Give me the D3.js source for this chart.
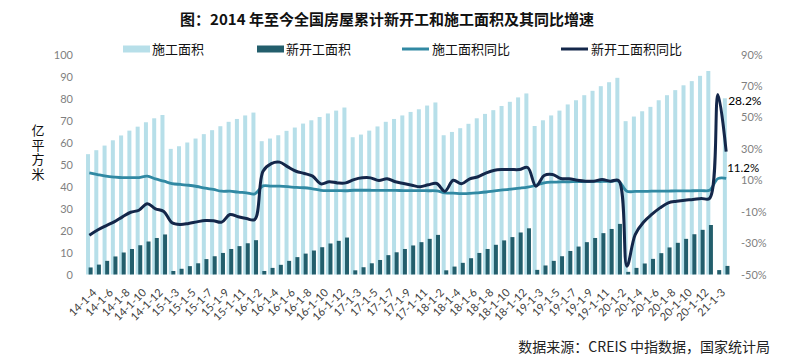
<!DOCTYPE html>
<html><head><meta charset="utf-8">
<script src="https://cdn.jsdelivr.net/npm/d3@7"></script>
<style>body{margin:0;background:#fff;} svg{display:block;}</style>
</head><body>
<svg id="c" width="792" height="360"></svg>
<script>
const categories = [
 "14-1-3","14-1-4","14-1-5","14-1-6","14-1-7","14-1-8","14-1-9","14-1-10","14-1-11","14-1-12",
 "15-1-2","15-1-3","15-1-4","15-1-5","15-1-6","15-1-7","15-1-8","15-1-9","15-1-10","15-1-11","15-1-12",
 "16-1-2","16-1-3","16-1-4","16-1-5","16-1-6","16-1-7","16-1-8","16-1-9","16-1-10","16-1-11","16-1-12",
 "17-1-2","17-1-3","17-1-4","17-1-5","17-1-6","17-1-7","17-1-8","17-1-9","17-1-10","17-1-11","17-1-12",
 "18-1-2","18-1-3","18-1-4","18-1-5","18-1-6","18-1-7","18-1-8","18-1-9","18-1-10","18-1-11","18-1-12",
 "19-1-2","19-1-3","19-1-4","19-1-5","19-1-6","19-1-7","19-1-8","19-1-9","19-1-10","19-1-11","19-1-12",
 "20-1-2","20-1-3","20-1-4","20-1-5","20-1-6","20-1-7","20-1-8","20-1-9","20-1-10","20-1-11","20-1-12",
 "21-1-2","21-1-3"
];
// 施工面积 (亿平方米)
const construction = [
 54.7,56.5,58.6,61.0,63.2,65.4,67.2,69.2,71.0,72.5,
 57.1,58.3,60.0,61.8,63.8,65.6,67.4,69.4,70.7,72.3,73.6,
 60.6,61.8,63.3,65.3,66.8,68.6,70.1,71.6,73.2,74.5,75.9,
 62.4,63.6,65.4,67.3,69.4,70.7,72.3,73.9,75.1,76.8,78.2,
 63.3,64.8,66.5,68.5,71.0,73.0,74.7,76.6,78.5,80.5,82.3,
 67.5,70.1,72.3,74.5,77.3,79.2,81.5,83.5,85.6,87.4,89.4,
 69.7,71.8,74.2,76.2,79.2,81.5,83.8,86.0,87.9,90.3,92.5,
 null,80.1
];
// 新开工面积 (亿平方米)
const newStart = [
 3.2,4.5,6.2,8.2,10.0,11.6,13.3,15.0,16.6,18.2,
 1.6,2.6,3.8,5.1,7.0,8.3,9.8,11.6,12.9,14.2,15.6,
 1.6,3.0,4.4,6.2,7.9,9.5,10.9,12.4,14.1,15.3,16.8,
 1.9,3.3,5.1,6.6,8.8,10.1,11.6,13.2,14.7,16.2,18.0,
 1.9,3.6,5.3,7.4,9.8,11.6,13.5,15.5,17.0,19.1,21.0,
 2.1,4.1,6.2,8.3,10.7,12.7,14.7,16.6,18.8,20.7,23.0,
 1.2,3.0,5.0,7.1,9.7,12.3,14.4,16.2,18.3,20.3,22.5,
 2.0,3.9
];
// 施工面积同比 (%)
const constructionYoY = [
 14.7,13.6,12.6,12.0,11.6,11.7,11.7,12.6,10.8,9.4,
 7.9,7.3,6.8,6.0,4.9,4.1,3.0,3.0,2.4,2.0,1.3,
 6.4,6.2,6.2,5.9,5.4,5.2,4.5,3.6,3.4,3.4,3.3,
 3.6,3.6,3.6,3.5,3.5,3.5,3.4,3.4,3.4,3.3,3.2,
 2.0,1.8,1.5,1.6,2.0,2.5,3.2,3.8,4.3,4.9,5.6,
 6.8,8.3,8.8,9.0,9.0,9.1,9.1,9.2,9.2,9.3,9.4,
 3.0,2.9,2.9,3.0,3.0,3.1,3.2,3.2,3.3,3.4,3.6,
 11.0,11.2
];
// 新开工面积同比 (%)
const newStartYoY = [
 -25.0,-21.7,-19.0,-16.5,-13.3,-10.4,-9.1,-5.0,-8.2,-9.9,
 -17.1,-18.2,-17.5,-16.5,-15.6,-15.8,-16.7,-11.8,-13.3,-14.4,-15.0,
 15.7,20.6,21.5,18.5,15.7,14.3,12.6,7.7,9.0,8.3,8.3,
 10.4,11.5,11.5,9.8,10.9,9.0,7.9,6.8,5.8,7.1,7.9,
 3.0,10.0,7.7,10.9,12.2,14.7,16.4,16.8,16.8,16.8,18.1,
 6.2,13.0,13.6,11.1,10.9,10.0,9.4,9.4,10.4,9.4,9.8,
 -44.7,-24.6,-16.7,-11.8,-7.6,-4.4,-3.4,-2.7,-2.3,-1.6,-1.6,
 64.5,28.2
];
const xTickLabels = categories.filter((c,i)=> i % 2 === 1);
const leftTicks = [0,10,20,30,40,50,60,70,80,90,100];
const rightTicks = [-50,-30,-10,10,30,50,70,90];
const seriesNames = ["施工面积","新开工面积","施工面积同比","新开工面积同比"];
const colors = {light:"#b7dfe9", dark:"#235e6c", teal:"#3189a3", navy:"#14274a"};
const titleText = "图：2014 年至今全国房屋累计新开工和施工面积及其同比增速";
const sourceText = "数据来源：CREIS 中指数据，国家统计局";
const yTitle = "亿平方米";

const svg = d3.select('#c');
const CJK = '"Noto Sans CJK SC", "Noto Sans", sans-serif';
const NUM = 'Lato, "Liberation Sans", sans-serif';

const x = d3.scaleBand().domain(categories).range([85.2, 730.3]).padding(0);
const yL = d3.scaleLinear().domain([0,100]).range([274.5,54.5]);
const yR = d3.scaleLinear().domain([-50,90]).range([274.5,54.5]);
const cx = c => x(c) + x.bandwidth()/2;

// title
svg.append('text').attr('x',387).attr('y',25).attr('text-anchor','middle')
  .attr('font-family',CJK).attr('font-weight','bold').attr('font-size',15).attr('fill','#111')
  .text(titleText);

// bars
const g = svg.append('g');
g.selectAll('rect.light').data(categories.map((c,i)=>({c,v:construction[i]})).filter(d=>d.v!=null))
 .join('rect').attr('class','light')
 .attr('x',d=>cx(d.c)-3.3).attr('width',4)
 .attr('y',d=>yL(d.v)).attr('height',d=>yL(0)-yL(d.v)).attr('fill',colors.light);
g.selectAll('rect.dark').data(categories.map((c,i)=>({c,v:newStart[i]})))
 .join('rect').attr('class','dark')
 .attr('x',d=>cx(d.c)-0.7).attr('width',4)
 .attr('y',d=>yL(d.v)).attr('height',d=>yL(0)-yL(d.v)).attr('fill',colors.dark);

// lines
const line = d3.line().defined(d=>d.v!=null).x(d=>cx(d.c)).y(d=>yR(d.v)).curve(d3.curveCatmullRom.alpha(0.5));
svg.append('path').datum(categories.map((c,i)=>({c,v:constructionYoY[i]})))
 .attr('d',line).attr('fill','none').attr('stroke',colors.teal).attr('stroke-width',2.8).attr('stroke-linejoin','round');
svg.append('path').datum(categories.map((c,i)=>({c,v:newStartYoY[i]})))
 .attr('d',line).attr('fill','none').attr('stroke',colors.navy).attr('stroke-width',3).attr('stroke-linejoin','round');

// axes
const axL = svg.append('g').attr('transform','translate(76,0)')
 .call(d3.axisLeft(yL).tickValues(leftTicks).tickSize(0).tickPadding(3));
axL.select('.domain').remove();
axL.selectAll('text').attr('font-family',NUM).attr('font-size',11).attr('fill','#7f7f7f');

const axR = svg.append('g').attr('transform','translate(738,0)')
 .call(d3.axisRight(yR).tickValues(rightTicks).tickFormat(d=>d+'%').tickSize(0).tickPadding(3));
axR.select('.domain').remove();
axR.selectAll('text').attr('font-family',NUM).attr('font-size',11).attr('fill','#7f7f7f');

const axB = svg.append('g').attr('transform','translate(0,274.5)')
 .call(d3.axisBottom(x).tickValues(xTickLabels).tickSize(0));
axB.select('.domain').remove();
axB.selectAll('text')
 .attr('font-family',NUM).attr('font-size',11).attr('fill','#404040')
 .attr('text-anchor','end').attr('dy','0.35em')
 .attr('transform','translate(-3,16) rotate(-45)').attr('y',0).attr('x',0);

// y-axis title (vertical)
svg.append('text').attr('x',38).attr('y',124)
 .attr('font-family',CJK).attr('font-size',13).attr('fill','#111')
 .style('writing-mode','vertical-rl').style('text-orientation','upright')
 .attr('letter-spacing',1.5)
 .text(yTitle);

// legend
const lg = svg.append('g').attr('font-family',CJK).attr('font-size',13).attr('fill','#111');
const legendItems = [
 {name:seriesNames[0], type:'rect', color:colors.light, x:123, tx:152},
 {name:seriesNames[1], type:'rect', color:colors.dark, x:257, tx:286},
 {name:seriesNames[2], type:'line', color:colors.teal, x:402, tx:432},
 {name:seriesNames[3], type:'line', color:colors.navy, x:561, tx:591}
];
legendItems.forEach(it=>{
  if(it.type==='rect') lg.append('rect').attr('x',it.x).attr('y',45.5).attr('width',27).attr('height',7).attr('fill',it.color);
  else lg.append('line').attr('x1',it.x).attr('x2',it.x+27).attr('y1',49).attr('y2',49).attr('stroke',it.color).attr('stroke-width',3);
  lg.append('text').attr('x',it.tx).attr('y',53.5).text(it.name);
});

// annotations
const last = categories.length-1;
svg.append('text').attr('x',cx(categories[last])+2).attr('y',yR(newStartYoY[last-1])+10)
 .attr('font-family',NUM).attr('font-size',12).attr('fill','#000').text(newStartYoY[last].toFixed(1)+'%');
svg.append('text').attr('x',cx(categories[last])+1).attr('y',yR(constructionYoY[last])-6)
 .attr('font-family',NUM).attr('font-size',11.5).attr('fill','#000').text(constructionYoY[last].toFixed(1)+'%');

// source
svg.append('text').attr('x',770).attr('y',352).attr('text-anchor','end')
 .attr('font-family',CJK).attr('font-size',14).attr('fill','#222').text(sourceText);
</script>
</body></html>
